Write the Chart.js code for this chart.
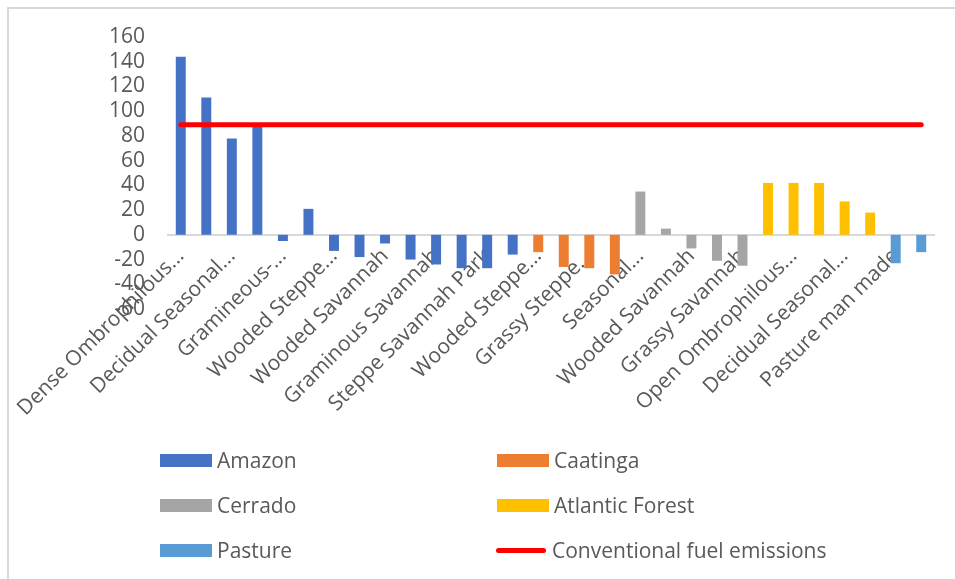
<!DOCTYPE html>
<html>
<head>
<meta charset="utf-8">
<script src="https://cdn.jsdelivr.net/npm/chart.js@4"></script>
<style>
  html, body { margin: 0; padding: 0; background: #fff; }
  body { width: 955px; height: 579px; position: relative; overflow: hidden; font-family: "Open Sans", sans-serif; }
  .frame { position: absolute; left: 7px; top: 7px; width: 1000px; height: 700px; border-left: 2px solid #d9d9d9; border-top: 2px solid #d9d9d9; }
  #chart { position: absolute; left: 0; top: 0; }
  .legend-item { position: absolute; height: 20px; display: flex; align-items: center; font-size: 21px; color: #595959; white-space: nowrap; }
  .legend-item .swatch { width: 52px; height: 13px; margin-right: 5px; }
  .legend-item .line { width: 50px; height: 5px; border-radius: 3px; margin: 0 6px 0 -1px; }
</style>
</head>
<body>
<div class="frame"></div>
<canvas id="chart" width="955" height="579"></canvas>
<div id="legend"></div>
<script>
// vegetation types per biome (every other label is shown on the axis)
const amazonTypes = [
  "Dense Ombrophilous...", "Open Ombrophilous...", "Decidual Seasonal...", "Semidecidual Seasonal...",
  "Gramineous-...", "Wooded Campinarana", "Wooded Steppe...", "Park Steppe...",
  "Wooded Savannah", "Park Savannah", "Graminous Savannah", "Forested Savannah",
  "Steppe Savannah Park", "Graminous Steppe..."
];
const caatingaTypes = ["Wooded Steppe...", "Park Steppe...", "Grassy Steppe...", "Forested Steppe..."];
const cerradoTypes = ["Seasonal...", "Forested Savannah", "Wooded Savannah", "Park Savannah", "Grassy Savannah"];
const atlanticTypes = ["Dense Ombrophilous...", "Open Ombrophilous...", "Mixed Ombrophilous...", "Decidual Seasonal...", "Semidecidual..."];
const pastureTypes = ["Pasture man made", "Pasture native"];

// values per biome
const amazon = [144, 111, 78, 88, -5, 21, -13, -18, -7, -20, -24, -27, -27, -16];
const caatinga = [-14, -26, -27, -32];
const cerrado = [35, 5, -11, -21, -25];
const atlanticForest = [42, 42, 42, 27, 18];
const pasture = [-23, -14];
const fuelEmissions = 89;

const yTicks = [-60, -40, -20, 0, 20, 40, 60, 80, 100, 120, 140, 160];

const groups = [
  { label: "Amazon", types: amazonTypes, values: amazon, color: "#4472C4" },
  { label: "Caatinga", types: caatingaTypes, values: caatinga, color: "#ED7D31" },
  { label: "Cerrado", types: cerradoTypes, values: cerrado, color: "#A5A5A5" },
  { label: "Atlantic Forest", types: atlanticTypes, values: atlanticForest, color: "#FFC000" },
  { label: "Pasture", types: pastureTypes, values: pasture, color: "#5B9BD5" }
];
const lineColor = "#FF0000";

const labels = [].concat(...groups.map(g => g.types));

// each biome only fills its own stretch of categories
let offset = 0;
const barSets = groups.map(g => {
  const data = labels.map(() => null);
  g.values.forEach((v, i) => { data[offset + i] = v; });
  offset += g.values.length;
  return {
    type: "bar",
    label: g.label,
    data: data,
    backgroundColor: g.color,
    grouped: false,
    barPercentage: 0.39,
    categoryPercentage: 1,
    order: 1
  };
});

const fuelLine = {
  type: "line",
  label: "Conventional fuel emissions",
  data: labels.map(() => fuelEmissions),
  borderColor: lineColor,
  borderWidth: 5,
  borderCapStyle: "round",
  pointRadius: 0,
  order: 0
};

const tickFont = { family: "Open Sans", size: 21 };

new Chart(document.getElementById("chart"), {
  data: { labels: labels, datasets: barSets.concat([fuelLine]) },
  options: {
    responsive: false,
    animation: false,
    layout: { padding: { top: 37, bottom: 270, left: 0, right: 21 } },
    plugins: { legend: { display: false }, tooltip: { enabled: false } },
    scales: {
      x: {
        position: { y: 0 },
        grid: { display: false },
        border: { display: true, color: "#d9d9d9", width: 2 },
        ticks: {
          autoSkip: false,
          minRotation: 45,
          maxRotation: 45,
          padding: 1,
          color: "#595959",
          font: tickFont,
          callback: (value, index) => index % 2 === 0 ? labels[index] : ""
        },
        afterFit: (scale) => {
          scale.height = 0;
          scale.paddingLeft = 0;
          scale.paddingRight = 0;
        }
      },
      y: {
        min: -60,
        max: 160,
        grid: { display: false, drawTicks: false },
        border: { display: false },
        afterBuildTicks: (scale) => { scale.ticks = yTicks.map(v => ({ value: v })); },
        ticks: { autoSkip: false, padding: 23, color: "#595959", font: tickFont },
        afterFit: (scale) => { scale.width = 168; }
      }
    }
  }
});

// legend in two columns under the plot
const legendEl = document.getElementById("legend");
const legendEntries = groups.map(g => ({ label: g.label, color: g.color, line: false }))
  .concat([{ label: fuelLine.label, color: lineColor, line: true }]);
legendEntries.forEach((entry, i) => {
  const item = document.createElement("div");
  item.className = "legend-item";
  item.style.left = (i % 2 === 0 ? 160 : 497) + "px";
  item.style.top = (450 + Math.floor(i / 2) * 45) + "px";
  const mark = document.createElement("span");
  mark.className = entry.line ? "line" : "swatch";
  mark.style.background = entry.color;
  item.appendChild(mark);
  item.appendChild(document.createTextNode(entry.label));
  legendEl.appendChild(item);
});
</script>
</body>
</html>
